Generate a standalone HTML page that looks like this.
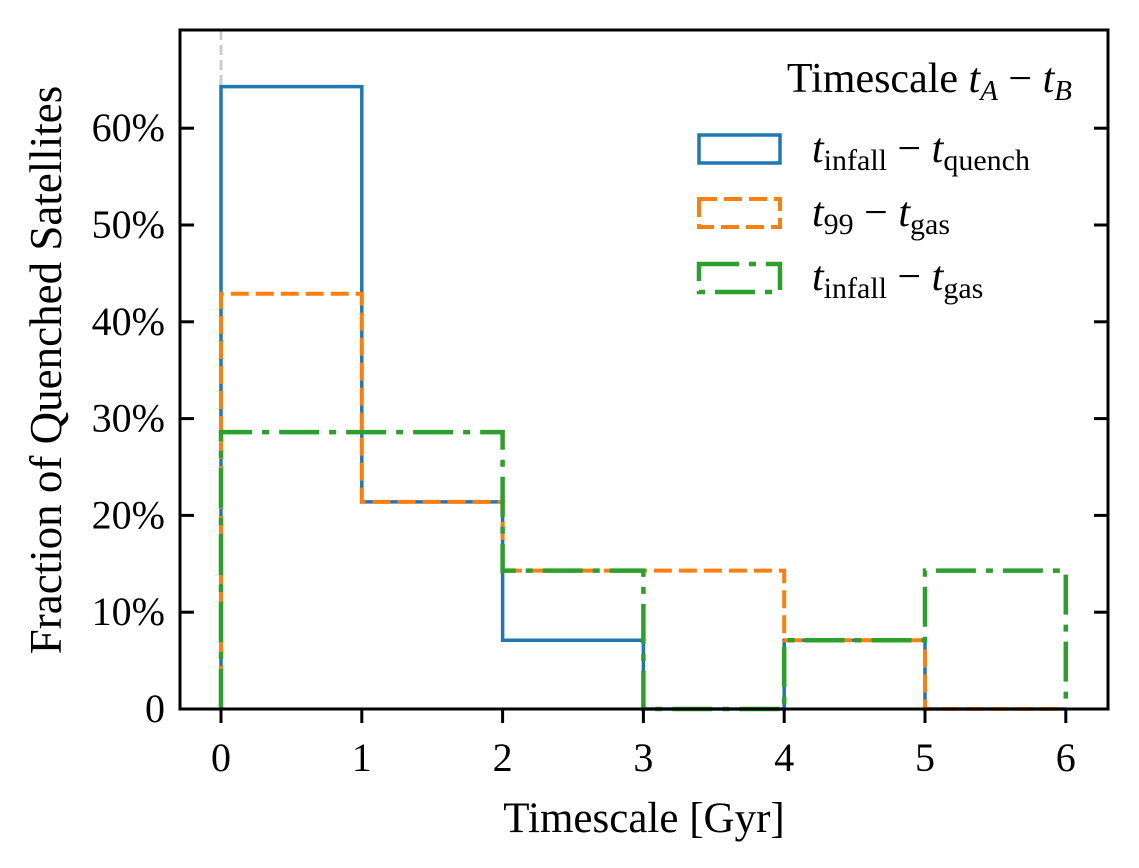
<!DOCTYPE html>
<html><head><meta charset="utf-8"><style>
body{margin:0;background:#fff;}
svg{display:block;font-family:"Liberation Serif",serif;}
</style></head><body>
<svg id="chart" width="1139" height="868">
</svg>
<script>
const binEdges=[0,1,2,3,4,5,6];
const seriesQuench=[64.3,21.4,7.1,0,7.1,0];
const series99Gas=[42.9,21.4,14.3,14.3,7.1,0];
const seriesInfallGas=[28.6,28.6,14.3,0,7.1,14.3];
const xTicks=[0,1,2,3,4,5,6];
const yTicks=[0,10,20,30,40,50,60];
const yTickLabels=["0","10%","20%","30%","40%","50%","60%"];

const NS="http://www.w3.org/2000/svg";
const svg=document.getElementById('chart');
const L=180,R=1108,T=30,B=709;
function xs(v){return 221+v*140.8;}
function ys(v){return 709-v*9.68;}
function mk(tag,attrs,parent){const e=document.createElementNS(NS,tag);for(const k in attrs)e.setAttribute(k,attrs[k]);(parent||svg).appendChild(e);return e;}

const zl=mk('line',{x1:xs(0),x2:xs(0),y1:T,y2:B,stroke:'#cccccc','stroke-width':3,'stroke-dasharray':'10 5'});



function step(vals,color,dash,w,name){
  let d='M'+xs(binEdges[0])+','+ys(0);
  for(let i=0;i<vals.length;i++){
    d+=' L'+xs(binEdges[i])+','+ys(vals[i])+' L'+xs(binEdges[i+1])+','+ys(vals[i]);
  }
  d+=' L'+xs(binEdges[vals.length])+','+ys(0);
  const p=mk('path',{d:d,fill:'none',stroke:color,'stroke-width':w,'stroke-dasharray':dash});
  
  
}
step(seriesQuench,'#1f77b4','none',3.5,'series-infall-quench');
step(series99Gas,'#ff7f0e','18 7',4,'series-t99-gas');
step(seriesInfallGas,'#2ca02c','40 10 7 10',4.5,'series-infall-gas');

const fr=mk('rect',{x:L,y:T,width:R-L,height:B-T,fill:'none',stroke:'#000','stroke-width':3});



xTicks.forEach(v=>{
  const t=mk('line',{x1:xs(v),x2:xs(v),y1:B,y2:B+14,stroke:'#000','stroke-width':3});
  
  
  const tx=mk('text',{x:xs(v),y:B+62,'text-anchor':'middle','font-size':40});
  tx.textContent=v;
  
  
});
yTicks.forEach((v,i)=>{
  const t=mk('line',{x1:L,x2:L+14,y1:ys(v),y2:ys(v),stroke:'#000','stroke-width':3});
  
  
  const t2=mk('line',{x1:R-14,x2:R,y1:ys(v),y2:ys(v),stroke:'#000','stroke-width':3});
  
  
  const tx=mk('text',{x:165,y:ys(v)+13,'text-anchor':'end','font-size':40});
  tx.textContent=yTickLabels[i];
  
  
});
</script>
<svg width="1139" height="868" style="position:absolute;left:0;top:0;font-family:'Liberation Serif',serif">
<text x="644" y="832" text-anchor="middle" font-size="43">Timescale [Gyr]</text>
<text transform="translate(61,370) rotate(-90)" text-anchor="middle" font-size="45">Fraction of Quenched Satellites</text>
<g font-size="42">
<text x="1072" y="92" text-anchor="end">Timescale <tspan font-style="italic">t</tspan><tspan font-style="italic" font-size="29" dy="8">A</tspan><tspan dy="-8"> − </tspan><tspan font-style="italic">t</tspan><tspan font-style="italic" font-size="29" dy="8">B</tspan></text>
<rect x="699" y="135" width="81" height="28" fill="none" stroke="#1f77b4" stroke-width="3.5"/>
<text x="812" y="162"><tspan font-style="italic">t</tspan><tspan font-size="30" dy="8">infall</tspan><tspan dy="-8"> − </tspan><tspan font-style="italic">t</tspan><tspan font-size="30" dy="8">quench</tspan></text>
<rect x="699" y="199" width="81" height="28" fill="none" stroke="#ff7f0e" stroke-width="4" stroke-dasharray="18 7"/>
<text x="812" y="226"><tspan font-style="italic">t</tspan><tspan font-size="30" dy="8">99</tspan><tspan dy="-8"> − </tspan><tspan font-style="italic">t</tspan><tspan font-size="30" dy="8">gas</tspan></text>
<rect x="699" y="264" width="81" height="28" fill="none" stroke="#2ca02c" stroke-width="4.5" stroke-dasharray="40 10 7 10"/>
<text x="812" y="290"><tspan font-style="italic">t</tspan><tspan font-size="30" dy="8">infall</tspan><tspan dy="-8"> − </tspan><tspan font-style="italic">t</tspan><tspan font-size="30" dy="8">gas</tspan></text>
</g>
</svg>
</body></html>
